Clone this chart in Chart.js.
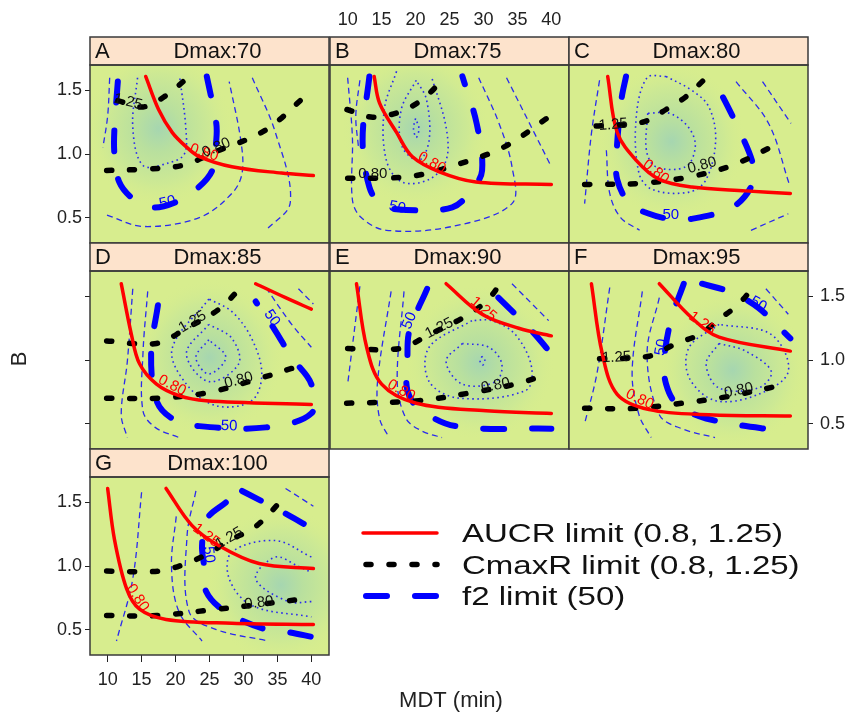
<!DOCTYPE html>
<html>
<head>
<meta charset="utf-8">
<title>AUCR, CmaxR and f2 limits by Dmax</title>
<script src="https://cdn.jsdelivr.net/npm/chart.js@4.4.1/dist/chart.umd.min.js"></script>
<style>
  html, body { margin: 0; padding: 0; background: #fff; }
  #wrap { position: relative; width: 849px; height: 714px; }
  #wrap canvas { position: absolute; left: 0; top: 0; }
</style>
</head>
<body>
<div id="wrap"></div>
<script>
// panel headers and axes
const panelLetters = ['A', 'B', 'C', 'D', 'E', 'F', 'G'];
const dmaxValues = [70, 75, 80, 85, 90, 95, 100];
const xTicks = [10, 15, 20, 25, 30, 35, 40];
const yTicks = [0.5, 1.0, 1.5];
const legendLabels = ['AUCR limit (0.8, 1.25)', 'CmaxR limit (0.8, 1.25)', 'f2 limit (50)'];

// AUCR = 0.8 / 1.25 contours, per panel  [MDT, B]
const aucrLines = [
  [[[15.6,1.61],[17.5,1.35],[19.5,1.17],[21.5,1.06],[23.5,0.98],[28.3,0.90],[35.6,0.85],[40.3,0.83]]],
  [[[13.9,1.61],[14.7,1.40],[17.2,1.17],[19.5,0.98],[23.5,0.86],[28.9,0.78],[40,0.76]]],
  [[[13.1,1.61],[14.5,1.17],[17.3,0.95],[20.7,0.80],[25.5,0.74],[33.4,0.71],[40,0.69]]],
  [[[12,1.60],[13.5,1.20],[14.7,0.97],[17.2,0.81],[20.5,0.72],[24.5,0.68],[40,0.65]],
   [[31.8,1.60],[36.2,1.49],[40,1.40]]],
  [[[11.3,1.60],[12.8,1.10],[15,0.81],[20.1,0.66],[30.4,0.60],[40,0.58]],
   [[24.5,1.60],[29.8,1.36],[35.2,1.25],[40,1.19]]],
  [[[10.7,1.60],[12.3,1.05],[14.5,0.73],[19.2,0.61],[28,0.57],[40,0.56]],
   [[20.7,1.60],[25.5,1.33],[29.5,1.18],[40,1.07]]],
  [[[10,1.61],[11,1.21],[12.8,0.82],[14.7,0.66],[18.6,0.58],[28.3,0.55],[40.3,0.54]],
   [[18.6,1.61],[22.4,1.32],[26.4,1.16],[32.3,1.02],[40.3,0.98]]]
];

// CmaxR = 0.8 / 1.25 contours
const cmaxLines = [
  [[[9.85,0.87],[15,0.88],[21,0.91],[26,1.02],[33.3,1.19],[39.8,1.49]],
   [[11.5,1.42],[15.2,1.37],[18.6,1.46],[22,1.61]]],
  [[[10,0.81],[15,0.81],[20.1,0.83],[26.9,0.93],[33.2,1.06],[39.6,1.29]],
   [[9.9,1.35],[13.7,1.29],[17.6,1.33],[20.5,1.41],[23,1.53],[24,1.62]]],
  [[[9.7,0.76],[18.2,0.77],[25.1,0.82],[31.4,0.91],[38.5,1.09]],
   [[11.4,1.22],[18.2,1.25],[21.7,1.35],[24.6,1.45],[27.6,1.60]]],
  [[[9.85,0.70],[17.6,0.70],[24.5,0.74],[30.8,0.83],[38.1,0.95]],
   [[9.85,1.15],[17.2,1.13],[21.6,1.25],[26.4,1.40],[29.8,1.58]]],
  [[[9.85,0.66],[20.5,0.68],[27.9,0.74],[34.7,0.81],[38.4,0.87]],
   [[10,1.09],[17.6,1.09],[22,1.20],[26.9,1.33],[30.4,1.46],[32.5,1.60]]],
  [[[9.7,0.62],[17.3,0.62],[24,0.66],[30.5,0.71],[38.6,0.80]],
   [[11.9,1.01],[19.2,1.03],[23.2,1.13],[26.6,1.20],[29.5,1.32],[32.4,1.44],[34.9,1.60]]],
  [[[9.85,0.61],[17.2,0.61],[24.5,0.65],[31.2,0.69],[38.6,0.74]],
   [[9.85,0.96],[17.6,0.96],[21.6,1.02],[24.5,1.09],[28.3,1.21],[31.8,1.31],[36.2,1.55]]]
];

// f2 = 50 contours
const f2Lines = [
  [[[11.5,1.57],[11,1.2],[11,1.0],[11.7,0.78],[13.7,0.65],[16.6,0.58],[20,0.62],[23,0.72],[25.4,0.87],[26,1.11],[26,1.24],[24.6,1.61]]],
  [[[13.2,1.61],[12.2,1.11],[13.2,0.74],[15,0.60],[18.6,0.56],[25.4,0.58],[28.3,0.72],[29.8,0.87],[29,1.24],[26.9,1.61]]],
  [[[15.8,1.61],[15.1,1.42],[14.4,1.0],[14.5,0.80],[16.3,0.61],[19.2,0.53],[22.2,0.49],[25.5,0.49],[31.4,0.58],[34.2,0.74],[34.6,0.90],[32,1.24],[28.5,1.61]]],
  [[[17.4,1.43],[16.4,1.05],[17.2,0.68],[19.5,0.54],[23.5,0.48],[33.3,0.47],[40,0.58],[40,0.81],[37.1,1.02],[34.7,1.23],[31.8,1.46]]],
  [[[21.7,1.56],[19.1,1.23],[18.8,1.02],[18.8,0.76],[20.5,0.62],[25.9,0.48],[40,0.46]],
   [[32.2,1.49],[37.1,1.23],[40,1.05]]],
  [[[24.3,1.60],[22.4,1.31],[21.4,0.99],[21.7,0.81],[23.2,0.66],[27.6,0.54],[40,0.43]],
   [[27,1.60],[31.4,1.53],[35.3,1.41],[40,1.17]]],
  [[[27.4,1.50],[24.6,1.37],[23.9,1.16],[24.2,1.0],[24.5,0.80],[27.4,0.64],[33.3,0.50],[36.6,0.48],[40.3,0.44]],
   [[29.8,1.59],[35.6,1.43],[39.6,1.31]]]
];

// other f2 levels, thin dashed
const f2Dashed = [
  [[[10.3,1.60],[10,1.30],[9.3,1.05]],
   [[9.9,0.52],[15.2,0.43],[23.5,0.50],[28.3,0.69],[29.8,0.85],[29.6,1.11],[27.9,1.57]],
   [[31.3,1.60],[34.7,1.17],[36.9,0.62],[33.3,0.40]]],
  [[[10,1.60],[10.7,1.13],[10.7,0.64],[12,0.50],[15.7,0.40],[25.4,0.43],[34.2,0.61],[34.2,0.90],[32.3,1.24],[29.3,1.60]],
   [[11.8,1.58],[11.2,1.30],[11.6,1.05]],
   [[33.4,1.60],[39.9,0.91]]],
  [[[11.9,1.58],[10.7,1.16],[9.7,0.61]],
   [[12.9,1.03],[13.4,0.69],[15,0.50],[17.8,0.40]],
   [[32,1.57],[36.8,1.24],[39.8,0.77]],
   [[35.9,1.57],[40.1,1.24]],
   [[34.2,0.40],[39.7,0.53]]],
  [[[13.7,1.56],[12.9,0.99],[12,0.57],[12.9,0.39]],
   [[15.9,1.54],[15.2,1.05],[15.2,0.60],[17,0.47],[20.5,0.39]],
   [[33.3,1.57],[37.1,1.28],[40,1.10]],
   [[38.1,1.56],[40.3,1.44]]],
  [[[11.8,1.58],[10,0.81]],
   [[16.4,1.54],[14.4,0.83],[14.7,0.54],[16.1,0.39]],
   [[18.3,1.54],[17.3,0.83],[18.6,0.54],[21,0.44],[23.9,0.39]],
   [[34.2,1.60],[39.6,1.31]]],
  [[[13.4,1.57],[11.5,0.89],[9.7,0.50]],
   [[18.2,1.54],[16.7,0.91],[17.7,0.57],[19.5,0.39]],
   [[20.7,1.49],[18.9,1.05],[20.7,0.57],[24,0.46],[28.9,0.39]],
   [[36.4,1.56],[39.7,1.36]]],
  [[[15,1.58],[13.7,0.90],[11.3,0.41]],
   [[20.1,1.39],[19.4,1.0],[20.5,0.64],[23.9,0.41]],
   [[23,1.59],[21.7,1.24],[22,0.64],[26,0.50],[33.7,0.41]],
   [[36.2,1.61],[40.3,1.47]]]
];

// higher f2 levels, thin dotted
const f2Dotted = [
  [[[14.4,1.60],[13.7,1.21],[15.2,0.91],[19,0.93],[21.3,1.0],[21.5,1.21],[20.6,1.61]]],
  [[[17.2,1.65],[15.4,1.35],[15.7,0.95],[18,0.78],[22,0.80],[24.5,0.95],[24.5,1.21],[22.4,1.60]],
   [[20.1,1.58],[17.9,1.35],[18,1.06],[20.5,0.95],[22,1.11],[21.6,1.43],[20.1,1.58]],
   [[20,1.28],[19.7,1.20],[20.1,1.13],[20.5,1.20],[20,1.28]]],
  [[[21.7,1.61],[18.9,1.60],[17.3,1.29],[17.7,0.85],[19.7,0.72],[25.1,0.70],[27.6,0.80],[29,1.11],[28,1.37],[25.5,1.50],[21.7,1.61]],
   [[19,1.32],[18.8,1.03],[20.2,0.90],[24.6,0.90],[26,1.06],[25,1.21],[22.2,1.32],[19,1.32]]],
  [[[24.9,1.48],[19.5,1.09],[21.6,0.81],[26,0.64],[31.2,0.68],[32.7,0.89],[31.2,1.17],[28.3,1.38],[24.9,1.48]],
   [[24.9,1.28],[21.6,1.05],[24.9,0.83],[29.3,0.97],[28.3,1.17],[24.9,1.28]],
   [[24.9,1.16],[23,1.02],[24.9,0.89],[27.4,1.02],[24.9,1.16]]],
  [[[28.3,1.31],[22,1.10],[22,0.83],[26.4,0.70],[36.2,0.76],[37.1,0.94],[34.7,1.20],[31.2,1.31],[28.3,1.31]],
   [[26.9,1.13],[24.5,0.99],[26.9,0.81],[31.8,0.83],[32.7,0.97],[30.8,1.10],[26.9,1.13]],
   [[29.8,1.03],[29.5,0.99],[29.9,0.96],[30.2,1.0],[29.8,1.03]]],
  [[[29.5,1.28],[25.1,1.10],[25.1,0.86],[29,0.68],[35.3,0.73],[39.7,0.91],[37.2,1.20],[29.5,1.28]],
   [[29.5,1.13],[27.6,0.97],[29.5,0.78],[35.3,0.78],[37.2,0.91],[33.4,1.07],[29.5,1.13]]],
  [[[40,1.07],[34.7,1.20],[28.3,1.11],[27.9,0.90],[31.2,0.69],[40,0.60]],
   [[40,0.72],[36.6,0.72],[31.8,0.90],[34.7,1.07],[38,1.0],[40,0.95]]]
];

// contour labels: [MDT, B, text, line]
const lineLabels = [
  [[24.2,1.01,'0.80','aucr'], [26,1.05,'0.80','cmax'], [13,1.41,'1.25','cmax'], [18.8,0.62,'50','f2']],
  [[22.4,0.93,'0.80','aucr'], [13.7,0.84,'0.80','cmax'], [17.3,0.58,'50','f2']],
  [[20.2,0.86,'0.80','aucr'], [27,0.91,'0.80','cmax'], [13.9,1.23,'1.25','cmax'], [22.4,0.52,'50','f2']],
  [[19.5,0.80,'0.80','aucr'], [29.3,0.84,'0.80','cmax'], [22.5,1.30,'1.25','cmax'], [27.9,0.48,'50','f2'], [34.2,1.33,'50','f2']],
  [[17.9,0.76,'0.80','aucr'], [30,1.40,'1.25','aucr'], [31.8,0.80,'0.80','cmax'], [23.5,1.25,'1.25','cmax'], [19.1,1.31,'50','f2']],
  [[17.8,0.69,'0.80','aucr'], [27,1.29,'1.25','aucr'], [32.4,0.76,'0.80','cmax'], [14.4,1.02,'1.25','cmax'], [21,1.10,'50','f2'], [35.3,1.44,'50','f2']],
  [[14.4,0.75,'0.80','aucr'], [24.5,1.24,'1.25','aucr'], [32.3,0.71,'0.80','cmax'], [27.9,1.22,'1.25','cmax'], [24.9,1.09,'50','f2']]
];

// where the f2 surface peaks (greenest part of the field)
const fieldPeaks = [[17.5,1.2],[20,1.2],[22.5,1.1],[25,1.02],[29.5,0.98],[31.5,0.92],[35.5,0.85]];

const W = 849, H = 714;
const colLeft = [90, 330, 569], colW = 239;
const rowTop = [65, 271, 477], rowH = 178, stripH = 28;
const xMin = 7.4, xMax = 42.6, yMin = 0.3, yMax = 1.7;

Chart.defaults.font.family = 'Liberation Sans, Arial, sans-serif';
Chart.defaults.color = '#222';

const lineStyles = {
  aucr: { borderColor: '#ff0000', borderWidth: 3.5, borderDash: [], borderCapStyle: 'round' },
  cmax: { borderColor: '#000000', borderWidth: 5.5, borderDash: [5, 18], borderCapStyle: 'round' },
  f2:   { borderColor: '#0000ff', borderWidth: 6, borderDash: [21, 28], borderCapStyle: 'round' },
  dash: { borderColor: '#2a2aee', borderWidth: 1.3, borderDash: [6, 4], borderCapStyle: 'butt' },
  dot:  { borderColor: '#2a2aee', borderWidth: 1.6, borderDash: [1.6, 3.4], borderCapStyle: 'butt' }
};

function curveSets(curves, kind) {
  return curves.map(c => Object.assign({
    kind: kind,
    data: c.map(p => ({ x: p[0], y: p[1] })),
    showLine: true,
    pointRadius: 0,
    tension: 0.35,
    fill: false,
    clip: 0
  }, lineStyles[kind]));
}

function nearestAngle(chart, kind, px, py) {
  const sx = chart.scales.x, sy = chart.scales.y;
  let best = Infinity, ang = 0;
  chart.data.datasets.forEach(ds => {
    if (ds.kind !== kind) return;
    const pts = ds.data.map(d => [sx.getPixelForValue(d.x), sy.getPixelForValue(d.y)]);
    for (let k = 0; k < pts.length - 1; k++) {
      const [x1, y1] = pts[k], [x2, y2] = pts[k + 1];
      const dx = x2 - x1, dy = y2 - y1;
      const t = Math.max(0, Math.min(1, ((px - x1) * dx + (py - y1) * dy) / (dx * dx + dy * dy)));
      const d = Math.hypot(px - (x1 + t * dx), py - (y1 + t * dy));
      if (d < best) { best = d; ang = Math.atan2(dy, dx); }
    }
  });
  if (ang > Math.PI / 2) ang -= Math.PI;
  if (ang < -Math.PI / 2) ang += Math.PI;
  return ang;
}

const panelDeco = {
  id: 'panelDeco',
  beforeDraw(chart, args, opts) {
    const { ctx, chartArea: a, scales } = chart;
    const i = opts.index;
    ctx.save();
    ctx.fillStyle = 'rgb(215,237,142)';
    ctx.fillRect(a.left, a.top, a.width, a.height);
    ctx.beginPath();
    ctx.rect(a.left, a.top, a.width, a.height);
    ctx.clip();
    const px = scales.x.getPixelForValue(fieldPeaks[i][0]);
    const py = scales.y.getPixelForValue(fieldPeaks[i][1]);
    const rx = scales.x.getPixelForValue(fieldPeaks[i][0] + 11) - px;
    const ry = py - scales.y.getPixelForValue(fieldPeaks[i][1] + 0.62);
    ctx.translate(px, py);
    ctx.scale(1, ry / rx);
    const g = ctx.createRadialGradient(0, 0, 0, 0, 0, rx);
    g.addColorStop(0, 'rgba(166,214,176,1)');
    g.addColorStop(0.3, 'rgba(185,224,158,1)');
    g.addColorStop(0.7, 'rgba(205,233,148,1)');
    g.addColorStop(1, 'rgba(215,237,142,0)');
    ctx.fillStyle = g;
    ctx.fillRect(-rx, -rx, 2 * rx, 2 * rx);
    ctx.restore();

    // strip
    ctx.save();
    ctx.fillStyle = '#fde3cc';
    ctx.fillRect(a.left, a.top - stripH, a.width, stripH);
    ctx.strokeStyle = '#3a3a3a';
    ctx.lineWidth = 1.5;
    ctx.strokeRect(a.left, a.top - stripH, a.width, stripH);
    ctx.fillStyle = '#111';
    ctx.font = '22px Liberation Sans, Arial, sans-serif';
    ctx.textBaseline = 'middle';
    ctx.textAlign = 'left';
    ctx.fillText(panelLetters[i], a.left + 5, a.top - stripH / 2 + 1);
    ctx.textAlign = 'center';
    ctx.fillText('Dmax:' + dmaxValues[i], a.left + a.width / 2 + 8, a.top - stripH / 2 + 1);
    ctx.restore();
  },
  afterDatasetsDraw(chart, args, opts) {
    const { ctx, scales } = chart;
    lineLabels[opts.index].forEach(([x, y, text, kind]) => {
      const px = scales.x.getPixelForValue(x), py = scales.y.getPixelForValue(y);
      const ang = nearestAngle(chart, kind, px, py);
      ctx.save();
      ctx.translate(px, py);
      ctx.rotate(ang);
      ctx.font = '15px Liberation Sans, Arial, sans-serif';
      ctx.textAlign = 'center';
      ctx.textBaseline = 'middle';
      ctx.fillStyle = kind === 'cmax' ? '#111' : lineStyles[kind].borderColor;
      ctx.fillText(text, 0, 0);
      ctx.restore();
    });
  },
  afterDraw(chart, args, opts) {
    const { ctx, chartArea: a } = chart;
    ctx.save();
    ctx.strokeStyle = '#3a3a3a';
    ctx.lineWidth = 1.5;
    ctx.strokeRect(a.left, a.top, a.width, a.height);
    ctx.restore();
    if (opts.index !== 6) return;

    // axis titles
    ctx.save();
    ctx.fillStyle = '#222';
    ctx.font = '22px Liberation Sans, Arial, sans-serif';
    ctx.textAlign = 'center';
    ctx.textBaseline = 'middle';
    ctx.fillText('MDT (min)', 451, 701);
    ctx.translate(20, 359);
    ctx.rotate(-Math.PI / 2);
    ctx.fillText('B', 0, 0);
    ctx.restore();

    // key
    ['aucr', 'cmax', 'f2'].forEach((kind, k) => {
      const ds = chart.data.datasets.find(d => d.kind === kind);
      const y = 533 + k * 31.5;
      ctx.save();
      ctx.strokeStyle = ds.borderColor;
      ctx.lineWidth = ds.borderWidth;
      ctx.lineCap = ds.borderCapStyle;
      ctx.setLineDash(ds.borderDash);
      ctx.beginPath();
      ctx.moveTo(kind === 'aucr' ? 363 : 366, y);
      ctx.lineTo(437, y);
      ctx.stroke();
      ctx.restore();
      ctx.save();
      ctx.fillStyle = '#111';
      ctx.font = '26px Liberation Sans, Arial, sans-serif';
      ctx.textBaseline = 'middle';
      ctx.translate(462, y + 2);
      ctx.scale(1.27, 1);
      ctx.fillText(legendLabels[k], 0, 0);
      ctx.restore();
    });
  }
};

const wrap = document.getElementById('wrap');

panelLetters.forEach((letter, i) => {
  const row = Math.floor(i / 3), col = i % 3;
  const leftLabels = i === 0 || i === 6;
  const leftMarks = leftLabels || i === 3;
  const topLabels = i === 1;
  const rightLabels = i === 5;
  const bottomLabels = i === 6;
  const L = colLeft[col], T = rowTop[row];

  const canvas = document.createElement('canvas');
  canvas.width = W;
  canvas.height = H;
  wrap.appendChild(canvas);

  const tickFont = { size: 18 };
  const setX = s => { s.ticks = xTicks.map(v => ({ value: v })); };
  const setY = s => { s.ticks = yTicks.map(v => ({ value: v })); };
  // fixed axis sizes, only for the axes that are shown
  const fixH = h => s => { s.height = s.options.display ? h : 0; };
  const fixW = w => s => { s.width = s.options.display ? w : 0; };

  new Chart(canvas, {
    type: 'scatter',
    data: {
      datasets: [].concat(
        curveSets(aucrLines[i], 'aucr'),
        curveSets(cmaxLines[i], 'cmax'),
        curveSets(f2Lines[i], 'f2'),
        curveSets(f2Dashed[i], 'dash'),
        curveSets(f2Dotted[i], 'dot')
      )
    },
    options: {
      responsive: false,
      devicePixelRatio: 1,
      animation: false,
      events: [],
      layout: {
        padding: {
          left: L - (leftMarks ? 40 : 0),
          top: T - (topLabels ? 60 : 0),
          right: W - (L + colW) - (rightLabels ? 41 : 0),
          bottom: H - (T + rowH) - (bottomLabels ? 40 : 0)
        }
      },
      scales: {
        x: {
          type: 'linear', position: 'bottom', min: xMin, max: xMax,
          display: bottomLabels,
          afterBuildTicks: setX,
          afterFit: fixH(40),
          grid: { drawOnChartArea: false, color: '#222', tickLength: 7 },
          border: { display: false },
          ticks: { padding: 7, font: tickFont, autoSkip: false, maxRotation: 0, callback: v => String(v) }
        },
        x2: {
          type: 'linear', position: 'top', min: xMin, max: xMax,
          display: topLabels,
          afterBuildTicks: setX,
          afterFit: fixH(60),
          grid: { display: false, drawTicks: false },
          border: { display: false },
          ticks: { padding: 34, font: tickFont, autoSkip: false, maxRotation: 0, callback: v => String(v) }
        },
        y: {
          type: 'linear', position: 'left', min: yMin, max: yMax,
          display: leftMarks,
          afterBuildTicks: setY,
          afterFit: fixW(40),
          grid: { drawOnChartArea: false, color: '#222', tickLength: 5 },
          border: { display: false },
          ticks: { display: leftLabels, padding: 3, font: tickFont, autoSkip: false, callback: v => v.toFixed(1) }
        },
        y2: {
          type: 'linear', position: 'right', min: yMin, max: yMax,
          display: rightLabels,
          afterBuildTicks: setY,
          afterFit: fixW(41),
          grid: { drawOnChartArea: false, color: '#222', tickLength: 5 },
          border: { display: false },
          ticks: { padding: 7, font: tickFont, autoSkip: false, callback: v => v.toFixed(1) }
        }
      },
      plugins: {
        legend: { display: false },
        tooltip: { enabled: false },
        panelDeco: { index: i }
      }
    },
    plugins: [panelDeco]
  });
});
</script>
</body>
</html>
